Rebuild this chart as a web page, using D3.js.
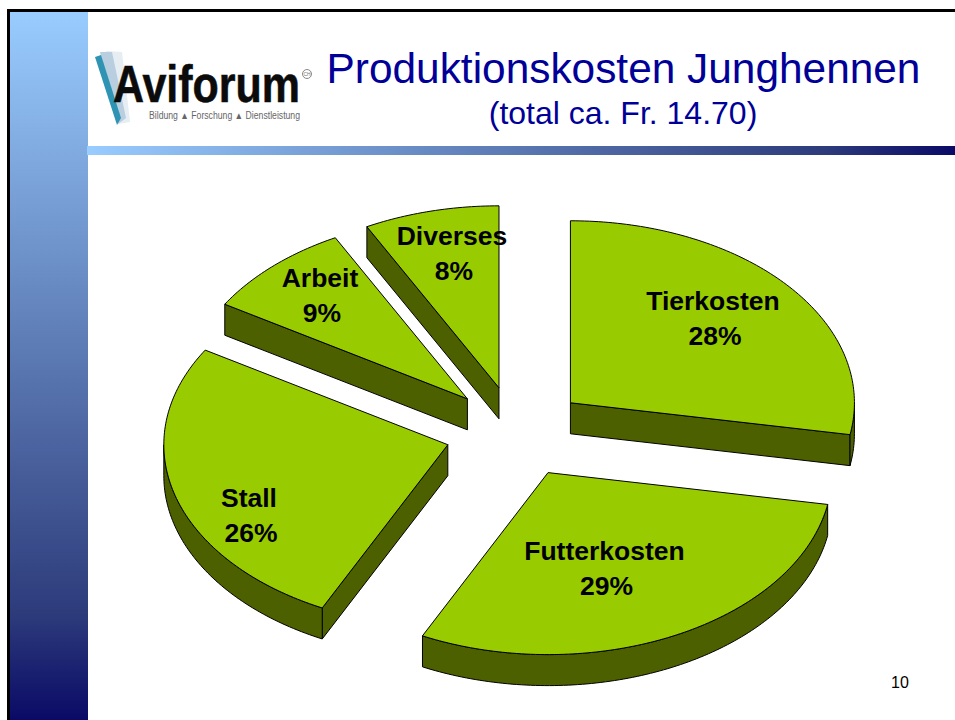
<!DOCTYPE html>
<html><head><meta charset="utf-8">
<style>html,body{margin:0;padding:0;background:#fff}svg{display:block}text{font-family:"Liberation Sans",Arial,sans-serif}</style>
<script src="https://cdnjs.cloudflare.com/ajax/libs/d3/7.8.5/d3.min.js"></script>
</head><body><svg id="c" width="955" height="720"></svg>
<script>
const categories = ["Tierkosten","Futterkosten","Stall","Arbeit","Diverses"];
const shares = [27.8,29.49,26.41,8.6,7.7];
const titleText = "Produktionskosten Junghennen";
const subtitleText = "(total ca. Fr. 14.70)";
const pageNumber = "10";

const W=955,H=720;
const svg=d3.select("#c");
const defs=svg.append("defs");
function grad(id,x2,y2,stops){
  const g=defs.append("linearGradient").attr("id",id).attr("x1",0).attr("y1",0).attr("x2",x2).attr("y2",y2);
  stops.forEach(s=>g.append("stop").attr("offset",s[0]).attr("stop-color",s[1]));
}
const stopsBand=[[0,"#99ccff"],[0.85,"#2d3b7b"],[1,"#0a0a66"]];
grad("vg",0,1,stopsBand); grad("hg",1,0,stopsBand);

// slide frame
svg.append("rect").attr("x",7).attr("y",9).attr("width",W-7).attr("height",H-9).attr("fill","#000");
svg.append("rect").attr("x",10).attr("y",12).attr("width",W-10).attr("height",H-12).attr("fill","#fff");
svg.append("rect").attr("x",10).attr("y",12).attr("width",78).attr("height",H-12).attr("fill","url(#vg)");
svg.append("rect").attr("x",87).attr("y",146).attr("width",W-87).attr("height",9).attr("fill","url(#hg)");

// logo
const logo=svg.append("g");
[["M106 51L122 52L130 122L118 124Z","#e6edf3"],["M100 52L112 52L126 118L118 124Z","#b9cfdf"],["M95 57L101 55L121 118L117 125Z","#2f93b3"]]
 .forEach(d=>logo.append("path").attr("d",d[0]).attr("fill",d[1]));
logo.append("text").attr("x",113).attr("y",102).attr("font-size",52).attr("font-weight","bold").attr("fill","#0b0b0b")
  .attr("stroke","#0b0b0b").attr("stroke-width",0.6)
  .attr("textLength",187).attr("lengthAdjust","spacingAndGlyphs").text("Aviforum");
logo.append("circle").attr("cx",307).attr("cy",74).attr("r",4.5).attr("fill","none").attr("stroke","#888").attr("stroke-width",1);
logo.append("text").attr("x",307).attr("y",76).attr("text-anchor","middle").attr("font-size",5).attr("fill","#777").text("CH");
logo.append("text").attr("x",149).attr("y",119).attr("font-size",10).attr("fill","#666")
  .attr("textLength",151).attr("lengthAdjust","spacingAndGlyphs").text("Bildung ▲ Forschung ▲ Dienstleistung");

// titles
svg.append("text").attr("x",623.5).attr("y",83).attr("text-anchor","middle").attr("font-size",42.4).attr("fill","#000099").text(titleText);
svg.append("text").attr("x",623).attr("y",124).attr("text-anchor","middle").attr("font-size",32).attr("fill","#000099").text(subtitleText);
svg.append("text").attr("x",900).attr("y",688).attr("text-anchor","middle").attr("font-size",16).attr("fill","#000").text(pageNumber);

// pie
const cx=516,cy=432,rx=284,ry=182,depth=31,explode=0.25;
const topCol="#99cc00",sideCol="#4d6000",lineCol="#000";
const pie=d3.pie().sort(null).value(d=>d)(shares);
const toXY=(a,ox,oy,dz=0)=>[ox+rx*Math.sin(a),oy-ry*Math.cos(a)+dz];
const line=d3.line();
const arcPts=(a0,a1,ox,oy,dz)=>{const n=Math.max(2,Math.ceil((a1-a0)*60));
  return d3.range(n+1).map(i=>toXY(a0+(a1-a0)*i/n,ox,oy,dz));};
const PI=Math.PI;
const order=[3,4,0,2,1];
order.forEach(i=>{
  const s=pie[i],mid=(s.startAngle+s.endAngle)/2;
  const ox=cx+explode*rx*Math.sin(mid),oy=cy-explode*ry*Math.cos(mid);
  const g=svg.append("g").attr("stroke",lineCol).attr("stroke-width",1).attr("stroke-linejoin","round");
  const wall=(a)=>{const p=toXY(a,ox,oy);
    g.append("path").attr("fill",sideCol).attr("d",line([[ox,oy],p,[p[0],p[1]+depth],[ox,oy+depth]])+"Z");};
  if(s.startAngle>PI) wall(s.startAngle);
  if(s.endAngle<PI) wall(s.endAngle);
  const r0=Math.max(s.startAngle,PI/2),r1=Math.min(s.endAngle,3*PI/2);
  if(r1>r0){
    g.append("path").attr("fill",sideCol)
     .attr("d",line(arcPts(r0,r1,ox,oy,0).concat(arcPts(r0,r1,ox,oy,depth).reverse()))+"Z");
  }
  g.append("path").attr("fill",topCol)
   .attr("d",line([[ox,oy]].concat(arcPts(s.startAngle,s.endAngle,ox,oy,0)))+"Z");
});

// labels
const labelAt=[[713,310],[604.5,560],[249,507],[320,287],[452,245]];
categories.forEach((c,i)=>{
  const t=svg.append("text").attr("text-anchor","middle").attr("font-size",26.5).attr("font-weight","bold").attr("fill","#000");
  t.append("tspan").attr("x",labelAt[i][0]).attr("y",labelAt[i][1]).text(c);
  t.append("tspan").attr("x",labelAt[i][0]+2).attr("y",labelAt[i][1]+35).text(Math.round(shares[i])+"%");
});
</script></body></html>
